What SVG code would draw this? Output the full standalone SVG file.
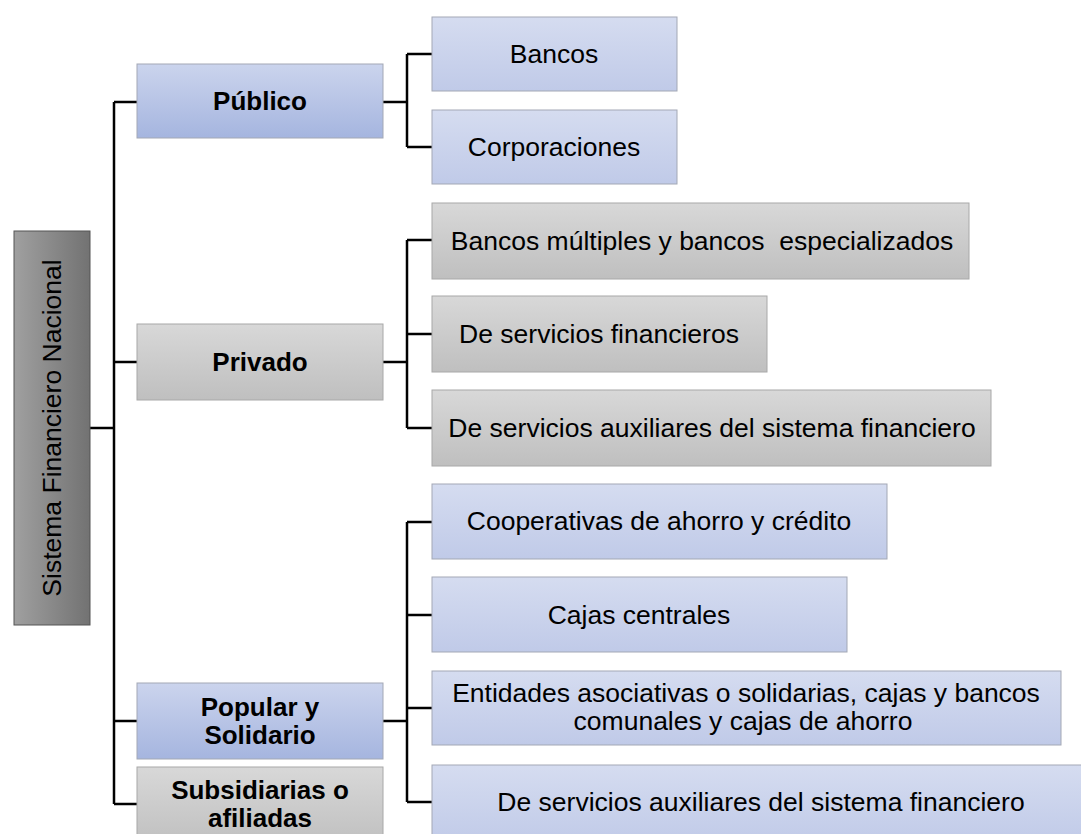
<svg xmlns="http://www.w3.org/2000/svg" width="1081" height="834" viewBox="0 0 1081 834">
<defs>
<linearGradient id="gBlue1" x1="0" y1="0" x2="0" y2="1"><stop offset="0" stop-color="#cbd4ed"/><stop offset="1" stop-color="#a5b5df"/></linearGradient>
<linearGradient id="gBlue2" x1="0" y1="0" x2="0" y2="1"><stop offset="0" stop-color="#d5dcf0"/><stop offset="1" stop-color="#c0cae8"/></linearGradient>
<linearGradient id="gGrey" x1="0" y1="0" x2="0" y2="1"><stop offset="0" stop-color="#d8d8d8"/><stop offset="1" stop-color="#bfbfbf"/></linearGradient>
<linearGradient id="gRoot" x1="0" y1="0" x2="1" y2="0"><stop offset="0" stop-color="#a0a0a0"/><stop offset="1" stop-color="#727272"/></linearGradient>
</defs>
<style>
.b1{fill:url(#gBlue1);stroke:#a3a8b5;stroke-width:1}
.b2{fill:url(#gBlue2);stroke:#a3a8b5;stroke-width:1}
.g{fill:url(#gGrey);stroke:#a8a8a8;stroke-width:1}
.r{fill:url(#gRoot);stroke:#555;stroke-width:1}
text{font-family:"Liberation Sans",Arial,sans-serif;font-size:26.5px;fill:#000;text-anchor:middle}
.bold{font-weight:bold;font-size:26px}
.conn{fill:none;stroke:#000;stroke-width:2.5}
</style>
<rect width="1081" height="834" fill="#fff"/>
<g id="connectors" class="conn">
<path d="M90,428 H114"/>
<path d="M114,102 V804"/>
<path d="M114,102 H137 M114,362 H137 M114,721 H137 M114,804 H137"/>
<path d="M383,102 H407 M407,54 V147 M407,54 H432 M407,147 H432"/>
<path d="M383,362 H407 M407,240 V428 M407,240 H432 M407,334 H432 M407,428 H432"/>
<path d="M383,721 H407 M407,522 V802 M407,522 H432 M407,615 H432 M407,708 H432 M407,802 H432"/>
</g>
<g id="root"><rect class="r" x="14" y="231" width="76" height="394"/><text transform="translate(52,428) rotate(-90)" y="9" fill="#1a1a1a">Sistema Financiero Nacional</text></g>
<g id="publico"><rect class="b1" x="137" y="64" width="246" height="74"/><text class="bold" x="260" y="110">Público</text></g>
<g id="privado"><rect class="g" x="137" y="324" width="246" height="76"/><text class="bold" x="260" y="371">Privado</text></g>
<g id="popular"><rect class="b1" x="137" y="683" width="246" height="76"/><text class="bold" x="260" y="716">Popular y</text><text class="bold" x="260" y="744">Solidario</text></g>
<g id="subsidiarias"><rect class="g" x="137" y="767" width="246" height="80"/><text class="bold" x="260" y="799">Subsidiarias o</text><text class="bold" x="260" y="827">afiliadas</text></g>
<g id="bancos"><rect class="b2" x="432" y="17" width="245" height="74"/><text x="554" y="63">Bancos</text></g>
<g id="corporaciones"><rect class="b2" x="432" y="110" width="245" height="74"/><text x="554" y="156">Corporaciones</text></g>
<g id="bancos-multiples"><rect class="g" x="432" y="203" width="537" height="76"/><text x="702" y="250" xml:space="preserve">Bancos múltiples y bancos  especializados</text></g>
<g id="servicios-financieros"><rect class="g" x="432" y="296" width="335" height="76"/><text x="599" y="343">De servicios financieros</text></g>
<g id="servicios-auxiliares-privado"><rect class="g" x="432" y="390" width="559" height="76"/><text x="712" y="437">De servicios auxiliares del sistema financiero</text></g>
<g id="cooperativas"><rect class="b2" x="432" y="484" width="455" height="75"/><text x="659" y="530">Cooperativas de ahorro y crédito</text></g>
<g id="cajas-centrales"><rect class="b2" x="432" y="577" width="415" height="75"/><text x="639" y="624">Cajas centrales</text></g>
<g id="entidades"><rect class="b2" x="432" y="671" width="629" height="74"/><text x="746" y="702">Entidades asociativas o solidarias, cajas y bancos</text><text x="743" y="730">comunales y cajas de ahorro</text></g>
<g id="servicios-auxiliares-popular"><rect class="b2" x="432" y="765" width="660" height="80"/><text x="761" y="811">De servicios auxiliares del sistema financiero</text></g>
</svg>
